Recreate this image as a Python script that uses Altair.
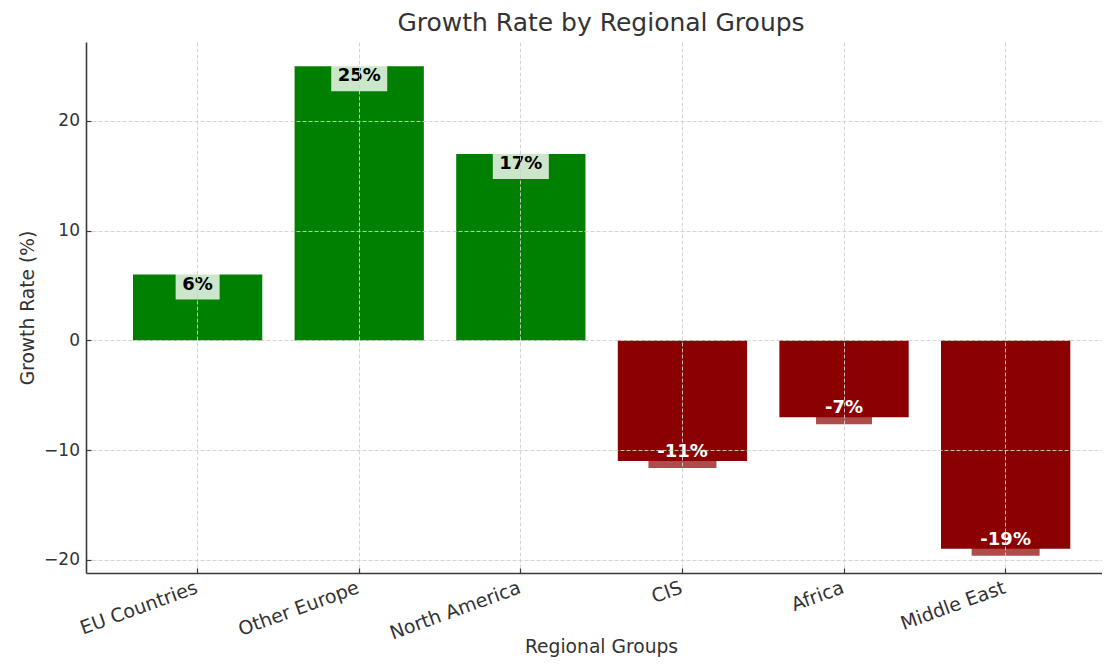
import altair as alt
import pandas as pd

# ---- data ----
regions = ["EU Countries", "Other Europe", "North America", "CIS", "Africa", "Middle East"]
growth = [6, 25, 17, -11, -7, -19]
y_ticks = [-20, -10, 0, 10, 20]
y_domain = [-21.2, 27.2]

df = pd.DataFrame({"region": regions, "growth": growth})
df["label"] = [f"{v}%" for v in growth]

FONT = "DejaVu Sans"
TXT = "#333333"
AX = "#3a3a3a"
W, H = 1016, 531

xs = alt.Scale(paddingInner=0.2, paddingOuter=0.2435, align=0.597)
ys = alt.Scale(domain=y_domain, nice=False, zero=False)

base = alt.Chart(df).transform_calculate(
    sign="datum.growth >= 0 ? 'pos' : 'neg'",
    boxw="length(datum.label) * 12 + 20",
)

bars = base.mark_bar().encode(
    x=alt.X(
        "region:N", sort=regions, scale=xs,
        axis=alt.Axis(
            title="Regional Groups", orient="bottom",
            labelAngle=340, labelAlign="right", labelBaseline="top",
            labelPadding=5, labelOffset=-4, labelFontSize=19,
            ticks=False, tickSize=0, grid=True, domain=True,
            titleX=515, titleY=73, titleBaseline="middle", titleAlign="center",
            zindex=1,
        ),
    ),
    y=alt.Y(
        "growth:Q", scale=ys,
        axis=alt.Axis(
            title="Growth Rate (%)", orient="left", values=y_ticks,
            labelExpr="datum.value < 0 ? '\u2212' + abs(datum.value) : datum.label",
            ticks=False, tickSize=0, labelPadding=6.5, grid=True, domain=True,
            titleX=-59, titleY=H / 2, titleAngle=270, titleAlign="center",
            titleBaseline="middle", zindex=1,
        ),
    ),
    color=alt.Color(
        "sign:N",
        scale=alt.Scale(domain=["pos", "neg"], range=["#008000", "#8b0000"]),
        legend=None,
    ),
)

# inward-pointing ticks via axes moved onto the opposite edges
boxes_pos = base.transform_filter("datum.growth >= 0").mark_tick(
    color="white", opacity=0.8, thickness=32, yOffset=9
).encode(
    x=alt.X(
        "region:N", sort=regions, scale=xs,
        axis=alt.Axis(orient="top", offset=-H, labels=False, domain=False,
                      grid=False, ticks=True, tickSize=5, tickColor=AX,
                      tickWidth=1.2, title=None, zindex=1),
    ),
    y=alt.Y(
        "growth:Q", scale=ys,
        axis=alt.Axis(orient="right", offset=-W, values=y_ticks, labels=False,
                      domain=False, grid=False, ticks=True, tickSize=5,
                      tickColor=AX, tickWidth=1.2, title=None, zindex=1),
    ),
    size=alt.Size("boxw:Q", scale=None),
)

boxes_neg = base.transform_filter("datum.growth < 0").mark_tick(
    color="#8b0000", opacity=0.7, thickness=35, yOffset=-10.5
).encode(
    x=alt.X("region:N", sort=regions, scale=xs, axis=None),
    y=alt.Y("growth:Q", scale=ys, axis=None),
    size=alt.Size("boxw:Q", scale=None),
)

text_pos = base.transform_filter("datum.growth >= 0").mark_text(
    font=FONT, fontSize=18, fontWeight="bold", baseline="middle",
    color="black", yOffset=10
).encode(
    x=alt.X("region:N", sort=regions, scale=xs, axis=None),
    y=alt.Y("growth:Q", scale=ys, axis=None),
    text="label:N",
)

text_neg = base.transform_filter("datum.growth < 0").mark_text(
    font=FONT, fontSize=18, fontWeight="bold", baseline="middle",
    color="white", yOffset=-9
).encode(
    x=alt.X("region:N", sort=regions, scale=xs, axis=None),
    y=alt.Y("growth:Q", scale=ys, axis=None),
    text="label:N",
)

chart = alt.layer(bars, boxes_pos, boxes_neg, text_pos, text_neg).resolve_axis(
    x="independent", y="independent"
).properties(
    width=W, height=H,
    padding={"left": 78, "top": 34, "right": 0, "bottom": 89},
    autosize="none",
    title=alt.TitleParams(
        "Growth Rate by Regional Groups", fontSize=25, fontWeight="normal",
        color=TXT, font=FONT, anchor="middle", baseline="middle", offset=20,
        dx=7, dy=26,
    ),
).configure(
    font=FONT,
).configure_view(
    stroke=None,
).configure_axis(
    labelFont=FONT, labelFontSize=17, labelColor=TXT,
    titleFont=FONT, titleFontSize=18.7, titleColor=TXT, titleFontWeight="normal",
    gridColor="#cfcfcf", gridDash=[4, 2], gridWidth=0.9,
    domainColor=AX, domainWidth=1.6,
)

chart.save("out.html", embed_options={"renderer": "svg", "actions": False})
